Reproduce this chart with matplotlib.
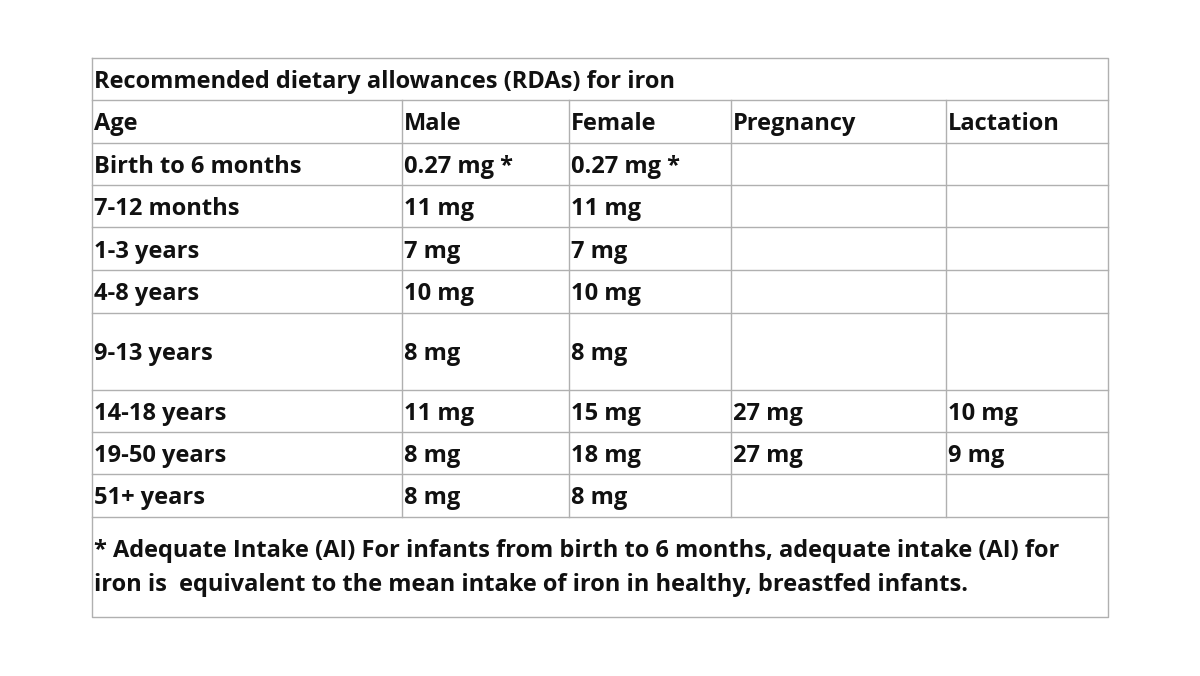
import matplotlib.pyplot as plt

title = 'Recommended dietary allowances (RDAs) for iron'
header = ['Age', 'Male', 'Female', 'Pregnancy', 'Lactation']
ages = ['Birth to 6 months', '7-12 months', '1-3 years', '4-8 years', '9-13 years',
        '14-18 years', '19-50 years', '51+ years']
male = ['0.27 mg *', '11 mg', '7 mg', '10 mg', '8 mg', '11 mg', '8 mg', '8 mg']
female = ['0.27 mg *', '11 mg', '7 mg', '10 mg', '8 mg', '15 mg', '18 mg', '8 mg']
pregnancy = ['', '', '', '', '', '27 mg', '27 mg', '']
lactation = ['', '', '', '', '', '10 mg', '9 mg', '']
footnote = ('* Adequate Intake (AI) For infants from birth to 6 months, adequate intake (AI) for\n'
            'iron is  equivalent to the mean intake of iron in healthy, breastfed infants.')

# layout in pixels
col_x = [92, 402, 569, 731, 946, 1108]
row_y = [58, 100, 143, 185, 227, 270, 313, 390, 432, 474, 517, 617]

fig = plt.figure(figsize=(12, 6.76), dpi=100)
ax = fig.add_axes([0, 0, 1, 1])
ax.set_xlim(0, 1200)
ax.set_ylim(676, 0)
ax.axis('off')

lc = '#b0b0b0'
lw = 1.0
# outer box
ax.plot([col_x[0], col_x[-1], col_x[-1], col_x[0], col_x[0]],
        [row_y[0], row_y[0], row_y[-1], row_y[-1], row_y[0]], color=lc, lw=lw)
for y in row_y[1:-1]:
    ax.plot([col_x[0], col_x[-1]], [y, y], color=lc, lw=lw)
for x in col_x[1:-1]:
    ax.plot([x, x], [row_y[1], row_y[-2]], color=lc, lw=lw)

fkw = dict(family=['Open Sans', 'DejaVu Sans'], fontsize=17, fontweight='bold',
           color='#111111', va='center', ha='left')
dy = 3
ax.text(col_x[0] + 2, (row_y[0] + row_y[1]) / 2 + dy, title, **fkw)
for j, h in enumerate(header):
    ax.text(col_x[j] + 2, (row_y[1] + row_y[2]) / 2 + dy, h, **fkw)
cols = [ages, male, female, pregnancy, lactation]
for i in range(len(ages)):
    yc = (row_y[i + 2] + row_y[i + 3]) / 2 + dy
    for j, c in enumerate(cols):
        if c[i]:
            ax.text(col_x[j] + 2, yc, c[i], **fkw)
ax.text(col_x[0] + 2, (row_y[-2] + row_y[-1]) / 2 + 1, footnote, linespacing=1.55, **fkw)

fig.savefig('out.png', dpi=100, facecolor='white')
